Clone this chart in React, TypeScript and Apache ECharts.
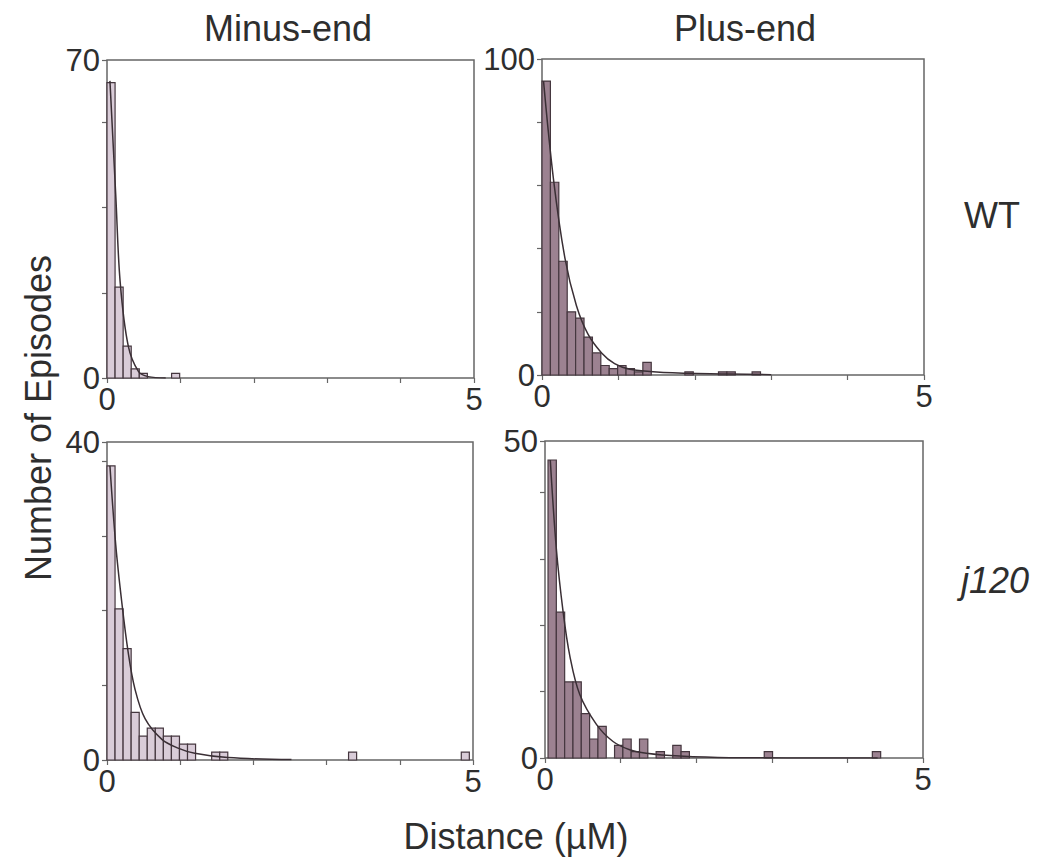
import React, { useEffect, useRef } from "react";
import * as echarts from "echarts";

// ---- data ----
const BIN_WIDTH = 0.11; // µM per histogram bin
const X_MAX = 5;

const wtMinusCounts = [65, 20, 7, 2, 1, 0, 0, 0, 1];
const wtPlusCounts = [93, 61, 36, 20, 18, 12, 7, 3, 2, 3, 2, 1, 4, 0, 0, 0, 0, 1, 0, 0, 0, 1, 1, 0, 0, 1];
const j120MinusCounts = [
  37, 19, 14, 6, 3, 4, 4, 3, 3, 2, 2, 0, 0, 1, 1,
  0, 0, 0, 0, 0, 0, 0, 0, 0, 0, 0, 0, 0, 0, 0,
  1,
  0, 0, 0, 0, 0, 0, 0, 0, 0, 0, 0, 0, 0,
  1,
];
const j120PlusCounts = [
  47, 23, 12, 12, 7, 3, 5, 0, 2, 3, 1, 3, 0, 1, 0, 2, 1,
  0, 0, 0, 0, 0, 0, 0, 0, 0,
  1,
  0, 0, 0, 0, 0, 0, 0, 0, 0, 0, 0, 0,
  1,
];

// exponential fit curves
const wtMinusFitX = [0.04, 0.12, 0.18, 0.29, 0.43, 0.56, 0.8];
const wtMinusFitY = [65.4, 40, 21, 7, 1.4, 0.3, 0];
const wtPlusFitX = [0.02, 0.15, 0.3, 0.45, 0.6, 0.78, 0.95, 1.15, 1.59, 2.46, 3.0];
const wtPlusFitY = [93, 62, 37, 22, 13, 7, 3.6, 1.8, 0.8, 0.3, 0.1];
const j120MinusFitX = [0.04, 0.12, 0.2, 0.29, 0.38, 0.52, 0.75, 0.97, 1.2, 1.65, 2.52];
const j120MinusFitY = [37, 27, 20, 13.5, 9, 5.2, 2.6, 1.5, 0.85, 0.3, 0.05];
const j120PlusFitX = [0.07, 0.15, 0.24, 0.33, 0.46, 0.68, 0.9, 1.12, 1.34, 1.78, 2.44, 4.4];
const j120PlusFitY = [47, 33, 23, 16, 10, 5.3, 2.6, 1.3, 0.75, 0.3, 0.05, 0];

const yMaxLabels = [70, 100, 40, 50];
const yTickSteps = [18.75, 20, 9.4, 10.46];
const binStarts = [0, 0, 0, 0.04];

const columnTitles = ["Minus-end", "Plus-end"];
const rowTitles = ["WT", "j120"];
const yAxisTitle = "Number of Episodes";
const xAxisTitle = "Distance (\u00b5M)";

const FONT = "'Liberation Sans', Arial, Helvetica, sans-serif";
const TEXT_COLOR = "#2e2e2e";
const MINUS_FILL = "#d9ccd8";
const PLUS_FILL = "#9c8291";
const BAR_STROKE = "#45373f";
const FRAME = "#666666";

export default function App() {
  const ref = useRef<HTMLDivElement>(null);

  useEffect(() => {
    if (!ref.current) return;
    const chart = echarts.init(ref.current, null, { renderer: "svg" });

    const panels = [
      { counts: wtMinusCounts, fx: wtMinusFitX, fy: wtMinusFitY, fill: MINUS_FILL, grid: { left: 107, top: 60, width: 367, height: 318 } },
      { counts: wtPlusCounts, fx: wtPlusFitX, fy: wtPlusFitY, fill: PLUS_FILL, grid: { left: 542, top: 59, width: 382, height: 316 } },
      { counts: j120MinusCounts, fx: j120MinusFitX, fy: j120MinusFitY, fill: MINUS_FILL, grid: { left: 107, top: 442, width: 366, height: 318 } },
      { counts: j120PlusCounts, fx: j120PlusFitX, fy: j120PlusFitY, fill: PLUS_FILL, grid: { left: 545, top: 441, width: 378, height: 317 } },
    ];

    const grids: any[] = [];
    const xAxes: any[] = [];
    const yAxes: any[] = [];
    const series: any[] = [];

    panels.forEach((p, i) => {
      const ymax = yMaxLabels[i];
      grids.push({ ...p.grid, show: true, borderColor: FRAME, borderWidth: 1.5, backgroundColor: "transparent", containLabel: false });
      xAxes.push({
        type: "value",
        gridIndex: i,
        min: 0,
        max: X_MAX,
        interval: 1,
        splitLine: { show: false },
        axisLine: { show: false },
        axisTick: { show: true, length: 5, lineStyle: { color: FRAME, width: 1.2 } },
        axisLabel: {
          show: true,
          margin: 6,
          fontSize: 31,
          fontFamily: FONT,
          color: TEXT_COLOR,
          showMinLabel: true,
          showMaxLabel: true,
          formatter: (v: number) => (v === 0 || v === X_MAX ? String(v) : ""),
        },
      });
      yAxes.push({
        type: "value",
        gridIndex: i,
        min: 0,
        max: ymax,
        interval: yTickSteps[i],
        splitLine: { show: false },
        axisLine: { show: false },
        axisTick: { show: true, length: 5, lineStyle: { color: FRAME, width: 1.2 } },
        axisLabel: {
          show: true,
          margin: 7,
          fontSize: 31,
          fontFamily: FONT,
          color: TEXT_COLOR,
          showMinLabel: true,
          showMaxLabel: true,
          formatter: (v: number) => (v === 0 || v === ymax ? String(v) : ""),
        },
      });

      const barData = p.counts
        .map((c, k) => [binStarts[i] + k * BIN_WIDTH, binStarts[i] + (k + 1) * BIN_WIDTH, c])
        .filter((d) => d[2] > 0);

      const fill = p.fill;
      series.push({
        type: "custom",
        xAxisIndex: i,
        yAxisIndex: i,
        data: barData,
        encode: { x: [0, 1], y: 2 },
        renderItem: (_params: any, api: any) => {
          const x0 = api.value(0);
          const x1 = api.value(1);
          const y = api.value(2);
          const a = api.coord([x0, y]);
          const b = api.coord([x1, 0]);
          return {
            type: "rect",
            shape: { x: a[0], y: a[1], width: b[0] - a[0], height: b[1] - a[1] },
            style: { fill, stroke: BAR_STROKE, lineWidth: 1.2 },
          };
        },
        z: 2,
      });

      series.push({
        type: "line",
        xAxisIndex: i,
        yAxisIndex: i,
        data: p.fx.map((x, k) => [x, p.fy[k]]),
        smooth: 0.35,
        showSymbol: false,
        symbol: "none",
        lineStyle: { color: "#3a2f35", width: 1.5 },
        z: 3,
      });
    });

    const graphic: any[] = [
      { type: "text", x: 288, y: 28, style: { text: columnTitles[0], font: `36px ${FONT}`, fill: TEXT_COLOR, textAlign: "center", textVerticalAlign: "middle" } },
      { type: "text", x: 745, y: 28, style: { text: columnTitles[1], font: `36px ${FONT}`, fill: TEXT_COLOR, textAlign: "center", textVerticalAlign: "middle" } },
      { type: "text", x: 992, y: 215, style: { text: rowTitles[0], font: `36px ${FONT}`, fill: TEXT_COLOR, textAlign: "center", textVerticalAlign: "middle" } },
      { type: "text", x: 995, y: 580, style: { text: rowTitles[1], font: `italic 36px ${FONT}`, fill: TEXT_COLOR, textAlign: "center", textVerticalAlign: "middle" } },
      { type: "text", x: 38, y: 418, rotation: Math.PI / 2, style: { text: yAxisTitle, font: `36px ${FONT}`, fill: TEXT_COLOR, textAlign: "center", textVerticalAlign: "middle" } },
      { type: "text", x: 516, y: 836, style: { text: xAxisTitle, font: `36px ${FONT}`, fill: TEXT_COLOR, textAlign: "center", textVerticalAlign: "middle" } },
    ];

    chart.setOption({
      animation: false,
      backgroundColor: "#ffffff",
      grid: grids,
      xAxis: xAxes,
      yAxis: yAxes,
      series,
      graphic,
    });

    return () => chart.dispose();
  }, []);

  return (
    <div
      ref={ref}
      style={{ position: "fixed", left: 0, top: 0, width: 1039, height: 864 }}
    />
  );
}
